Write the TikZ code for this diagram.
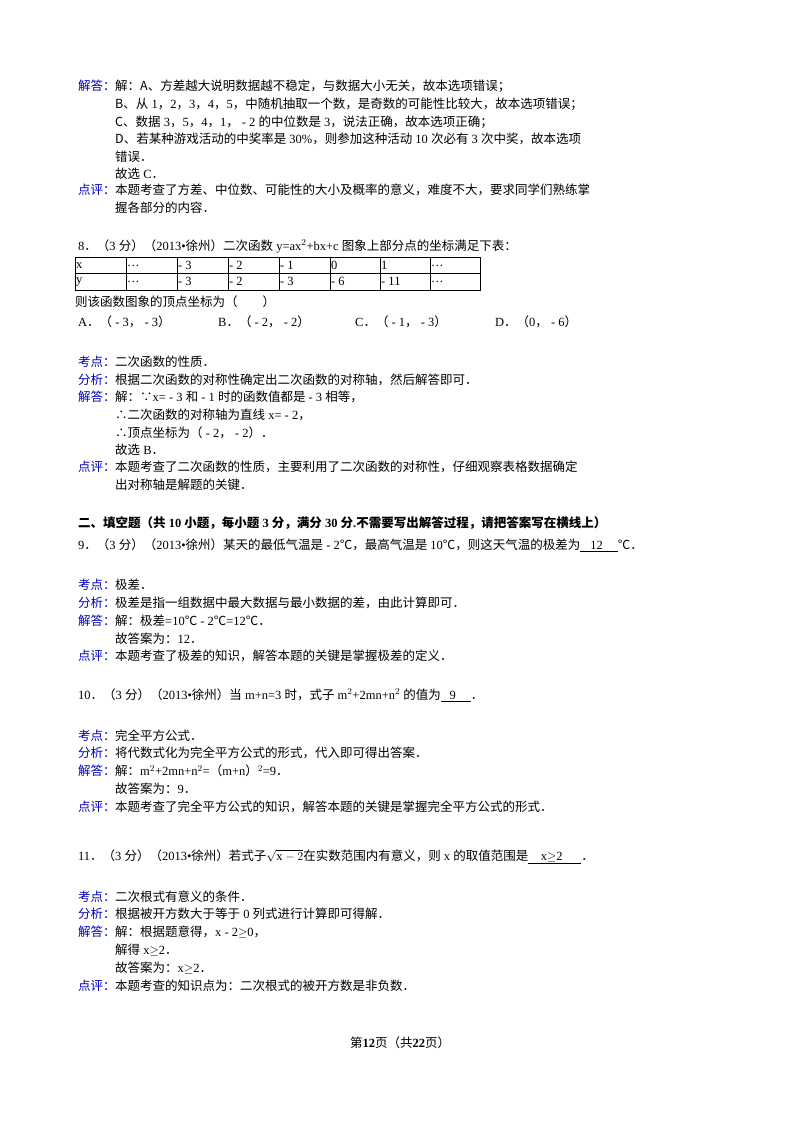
\documentclass[tikz,border=0pt]{standalone}
\usepackage{fontspec}
\setmainfont{Liberation Serif}
\newfontfamily\cjk{Noto Sans CJK SC}
\usepackage{amssymb}
\begin{document}
\begin{tikzpicture}[x=1pt,y=-1pt,
  t/.style={anchor=west,inner sep=0pt,font=\fontsize{12.5}{14}\selectfont},
  lb/.style={t,text=blue!75!black},
  g/.style={line width=0.6pt}]
\useasboundingbox[fill=white] (0,0) rectangle (800,1132);
\newcommand\C[1]{{\cjk #1}}
\node[lb] (l1) at (78,86) {\C{解答：}};
\node[t] (a1) at (115,86) {\C{解：A、方差越大说明数据越不稳定，与数据大小无关，故本选项错误；}};
\node[t] (a2) at (115,104) {\C{B、从} 1\C{，}2\C{，}3\C{，}4\C{，}5\C{，中随机抽取一个数，是奇数的可能性比较大，故本选项错误；}};
\node[t] (a3) at (115,122) {\C{C、数据} 3\C{，}5\C{，}4\C{，}1\C{，} - 2 \C{的中位数是} 3\C{，说法正确，故本选项正确；}};
\node[t] (a4) at (115,139) {\C{D、若某种游戏活动的中奖率是} 30\%\C{，则参加这种活动} 10 \C{次必有} 3 \C{次中奖，故本选项}};
\node[t] (a5) at (115,157) {\C{错误．}};
\node[t] (a6) at (115,174) {\C{故选} C\C{．}};
\node[lb] (l2) at (78,190) {\C{点评：}};
\node[t] (a7) at (115,190) {\C{本题考查了方差、中位数、可能性的大小及概率的意义，难度不大，要求同学们熟练掌}};
\node[t] (a8) at (115,208) {\C{握各部分的内容．}};

\node[t] (q8) at (78,246) {8\C{．（}3 \C{分）（}2013\textbullet\C{徐州）二次函数} y=ax$^2$+bx+c \C{图象上部分点的坐标满足下表：}};
\draw[g] (75,257) rectangle (480,290);
\draw[g] (75,273.5) -- (480,273.5);
\foreach \xx in {126,177,228,279,330,380,430} \draw[g] (\xx,257) -- (\xx,290);
\foreach \xx/\a/\b in {76/x/y,127/\dots/\dots,178/- 3/- 3,229/- 2/- 2,280/- 1/- 3,331/0/- 6,381/1/- 11,431/\dots/\dots}
 { \node[t] at (\xx,265.5) {\a}; \node[t] at (\xx,281.5) {\b}; }
\node[t] (q8b) at (75,302) {\C{则该函数图象的顶点坐标为（\hspace{2em}）}};
\node[t] (oA) at (78,322) {A\C{．（} - 3\C{，} - 3\C{）}};
\node[t] (oB) at (218,322) {B\C{．（} - 2\C{，} - 2\C{）}};
\node[t] (oC) at (355,322) {C\C{．（} - 1\C{，} - 3\C{）}};
\node[t] (oD) at (495,322) {D\C{．（}0\C{，} - 6\C{）}};

\node[lb] at (78,362) {\C{考点：}}; \node[t] at (115,362) {\C{二次函数的性质．}};
\node[lb] at (78,380) {\C{分析：}}; \node[t] at (115,380) {\C{根据二次函数的对称性确定出二次函数的对称轴，然后解答即可．}};
\node[lb] at (78,397) {\C{解答：}}; \node[t] at (115,397) {\C{解：∵}x= - 3 \C{和} - 1 \C{时的函数值都是} - 3 \C{相等，}};
\node[t] at (115,415) {\C{∴二次函数的对称轴为直线} x= - 2\C{，}};
\node[t] at (115,433) {\C{∴顶点坐标为（} - 2\C{，} - 2\C{）．}};
\node[t] at (115,450) {\C{故选} B\C{．}};
\node[lb] at (78,467) {\C{点评：}}; \node[t] at (115,467) {\C{本题考查了二次函数的性质，主要利用了二次函数的对称性，仔细观察表格数据确定}};
\node[t] at (115,485) {\C{出对称轴是解题的关键．}};

\node[t] (h) at (78,523) {\bfseries\C{二、填空题（共} 10 \C{小题，每小题} 3 \C{分，满分} 30 \C{分}.\C{不需要写出解答过程，请把答案写在横线上）}};

\node[t] (q9) at (78,545) {9\C{．（}3 \C{分）（}2013\textbullet\C{徐州）某天的最低气温是} - 2\C{℃，最高气温是} 10\C{℃，则这天气温的极差为}\underline{\hspace{0.8em}12\hspace{1.2em}}\C{℃．}};
\node[lb] at (78,585) {\C{考点：}}; \node[t] at (115,585) {\C{极差．}};
\node[lb] at (78,603) {\C{分析：}}; \node[t] at (115,603) {\C{极差是指一组数据中最大数据与最小数据的差，由此计算即可．}};
\node[lb] at (78,621) {\C{解答：}}; \node[t] at (115,621) {\C{解：极差}=10\C{℃} - 2\C{℃}=12\C{℃．}};
\node[t] at (115,639) {\C{故答案为：}12\C{．}};
\node[lb] at (78,656) {\C{点评：}}; \node[t] at (115,656) {\C{本题考查了极差的知识，解答本题的关键是掌握极差的定义．}};

\node[t] (q10) at (78,695) {10\C{．（}3 \C{分）（}2013\textbullet\C{徐州）当} m+n=3 \C{时，式子} m$^2$+2mn+n$^2$ \C{的值为}\underline{\hspace{0.7em}9\hspace{1.2em}}\C{．}};
\node[lb] at (78,736) {\C{考点：}}; \node[t] at (115,736) {\C{完全平方公式．}};
\node[lb] at (78,753) {\C{分析：}}; \node[t] at (115,753) {\C{将代数式化为完全平方公式的形式，代入即可得出答案．}};
\node[lb] at (78,771) {\C{解答：}}; \node[t] at (115,771) {\C{解：}m$^2$+2mn+n$^2$=\C{（}m+n\C{）}$^2$=9\C{．}};
\node[t] at (115,789) {\C{故答案为：}9\C{．}};
\node[lb] at (78,807) {\C{点评：}}; \node[t] at (115,807) {\C{本题考查了完全平方公式的知识，解答本题的关键是掌握完全平方公式的形式．}};

\node[t] (q11) at (78,857) {11\C{．（}3 \C{分）（}2013\textbullet\C{徐州）若式子}$\sqrt{\mathrm{x}-2}$\C{在实数范围内有意义，则} x \C{的取值范围是}\underline{\hspace{1em}x$\geq$2\hspace{1.5em}}\C{．}};
\node[lb] at (78,897) {\C{考点：}}; \node[t] at (115,897) {\C{二次根式有意义的条件．}};
\node[lb] at (78,914) {\C{分析：}}; \node[t] at (115,914) {\C{根据被开方数大于等于} 0 \C{列式进行计算即可得解．}};
\node[lb] at (78,932) {\C{解答：}}; \node[t] at (115,932) {\C{解：根据题意得，}x - 2$\geq$0\C{，}};
\node[t] at (115,950) {\C{解得} x$\geq$2\C{．}};
\node[t] at (115,968) {\C{故答案为：}x$\geq$2\C{．}};
\node[lb] at (78,986) {\C{点评：}}; \node[t] at (115,986) {\C{本题考查的知识点为：二次根式的被开方数是非负数．}};

\node[t,anchor=center] (ft) at (400,1043) {\C{第}\textbf{12}\C{页（共}\textbf{22}\C{页）}};
\end{tikzpicture}
\end{document}
